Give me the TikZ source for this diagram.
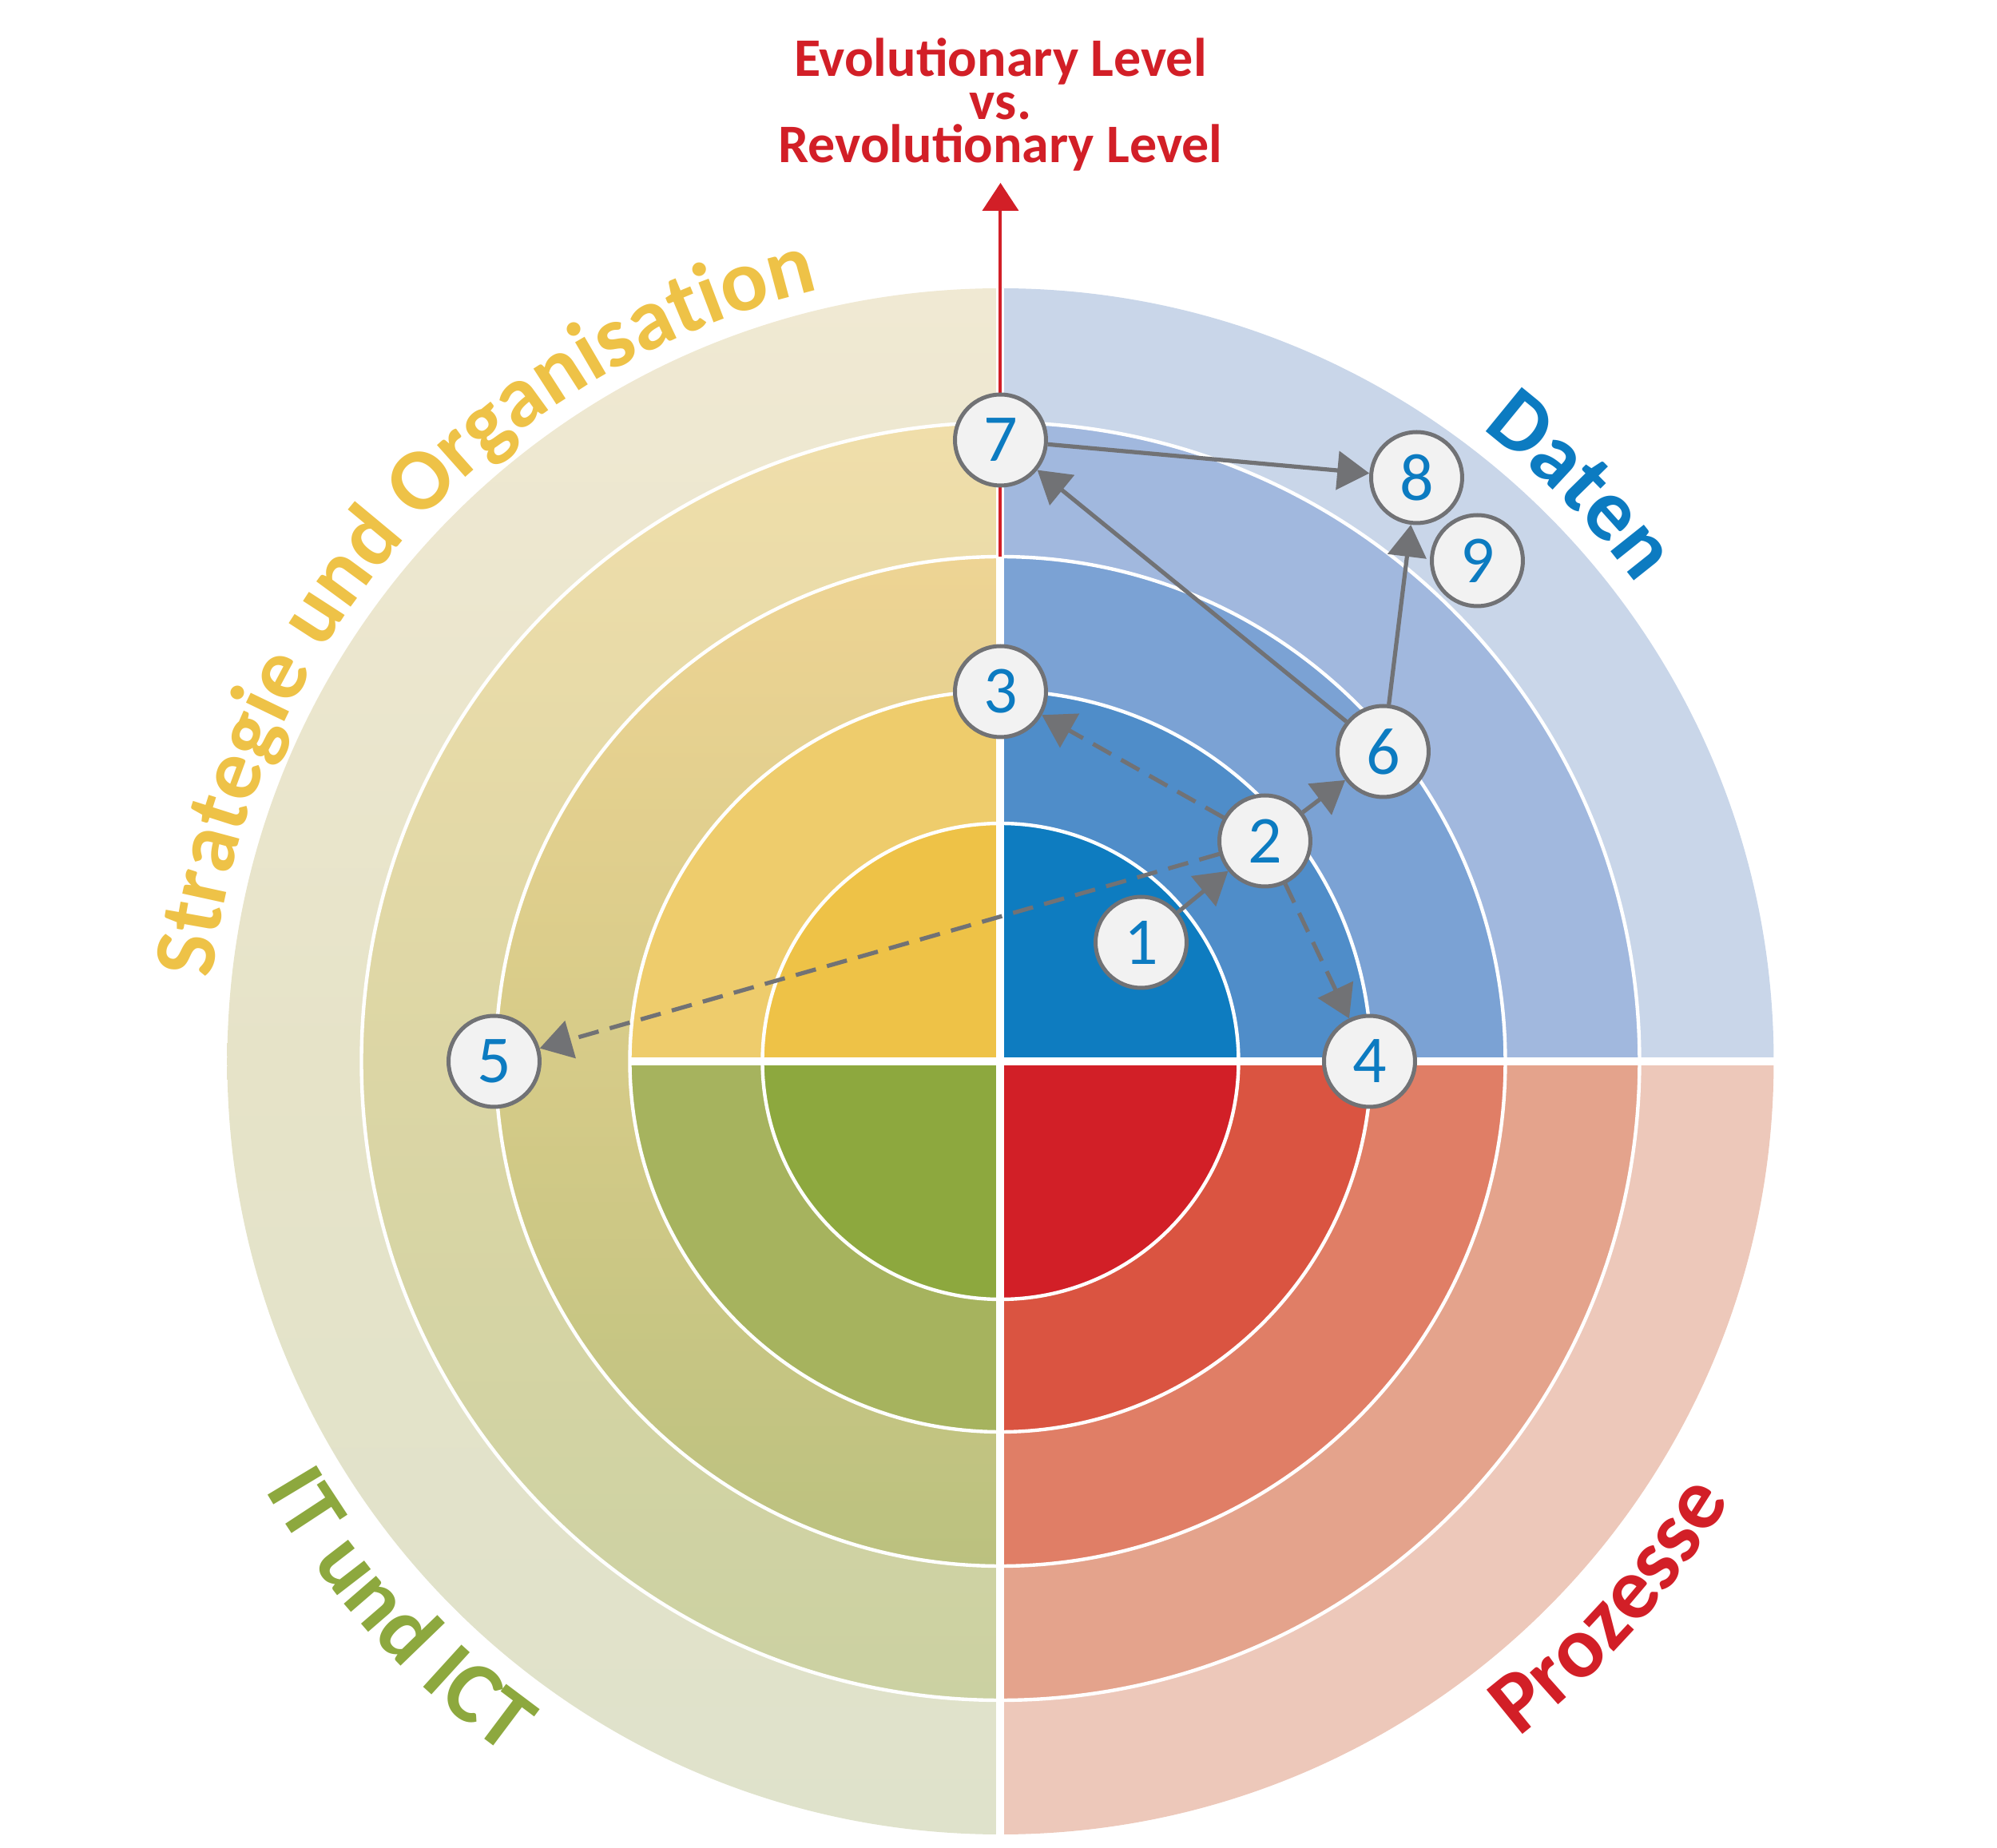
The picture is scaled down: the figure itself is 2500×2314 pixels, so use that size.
\documentclass[tikz,border=0pt]{standalone}
\usepackage{fontspec}
\setmainfont{Carlito}
\usetikzlibrary{arrows.meta,decorations.text}
\definecolor{b1}{HTML}{0E7CC0}
\definecolor{b2}{HTML}{4F8DC9}
\definecolor{b3}{HTML}{7BA2D4}
\definecolor{b4}{HTML}{A1B8DE}
\definecolor{b5}{HTML}{C9D6E9}
\definecolor{r1}{HTML}{D21F27}
\definecolor{r2}{HTML}{DA5441}
\definecolor{r3}{HTML}{E07E66}
\definecolor{r4}{HTML}{E4A38C}
\definecolor{r5}{HTML}{EDC8BA}
\definecolor{y1}{HTML}{EEC247}
\definecolor{y2}{HTML}{EECC6C}
\definecolor{g1}{HTML}{8DA83E}
\definecolor{g2}{HTML}{A6B35E}
\definecolor{lft}{HTML}{F0E9D3}
\definecolor{lfm}{HTML}{E6E3C8}
\definecolor{lfb}{HTML}{DFE2CB}
\definecolor{lvt}{HTML}{F0DEAA}
\definecolor{lvm}{HTML}{DCD6A5}
\definecolor{lvb}{HTML}{CBD1A2}
\definecolor{ltt}{HTML}{EED494}
\definecolor{ltm}{HTML}{D6CB88}
\definecolor{ltb}{HTML}{BBC17F}
\definecolor{grayc}{HTML}{717275}
\definecolor{nodefill}{HTML}{F2F2F2}
\definecolor{numblue}{HTML}{0C7BC1}
\definecolor{redc}{HTML}{D21F27}
\definecolor{ylab}{HTML}{EEC247}
\definecolor{blab}{HTML}{0C7BC1}
\definecolor{glab}{HTML}{8DA83E}
\newcommand\lblfont{\fontsize{27.5}{30}\selectfont\bfseries}
\begin{document}
\begin{tikzpicture}[x=0.25pt,y=0.25pt,
  numnode/.style={circle, fill=nodefill, draw=grayc, line width=1.25pt, minimum size=28.5pt, inner sep=0pt, text=numblue, font=\fontsize{21}{25}\selectfont},
  conn/.style={draw=grayc, line width=1.3pt, -{Triangle[length=10pt,width=12pt]}},
  dashconn/.style={conn, dash pattern=on 6.5pt off 3.6pt},
  ringline/.style={white, line width=1.1pt},
  sepline/.style={white, line width=2.5pt},
  redaxis/.style={draw=redc, line width=1pt, -{Triangle[length=8.75pt,width=11.25pt]}},
  titlenode/.style={align=center, text=redc, inner sep=0pt, font=\bfseries\fontsize{17}{13.6}\selectfont}
]
\useasboundingbox (-1252.5,-985) rectangle (1247.5,1329);
% upper right: Daten
\foreach \r/\c in {968/b5,800/b4,632/b3,464/b2,298/b1}
  {\fill[\c] (0,0) -- (0:\r) arc[start angle=0,end angle=90,radius=\r] -- cycle;}
% lower right: Prozesse
\foreach \r/\c in {968/r5,800/r4,632/r3,464/r2,298/r1}
  {\fill[\c] (0,0) -- (270:\r) arc[start angle=270,end angle=360,radius=\r] -- cycle;}
% left half, outer rings with vertical gradients
\shade[top color=lft,bottom color=lfb,middle color=lfm] (0,0) -- (90:968) arc[start angle=90,end angle=270,radius=968] -- cycle;
\shade[top color=lvt,bottom color=lvb,middle color=lvm] (0,0) -- (90:800) arc[start angle=90,end angle=270,radius=800] -- cycle;
\shade[top color=ltt,bottom color=ltb,middle color=ltm] (0,0) -- (90:632) arc[start angle=90,end angle=270,radius=632] -- cycle;
\fill[y2] (0,0) -- (90:464) arc[start angle=90,end angle=180,radius=464] -- cycle;
\fill[g2] (0,0) -- (180:464) arc[start angle=180,end angle=270,radius=464] -- cycle;
\fill[y1] (0,0) -- (90:298) arc[start angle=90,end angle=180,radius=298] -- cycle;
\fill[g1] (0,0) -- (180:298) arc[start angle=180,end angle=270,radius=298] -- cycle;
% white ring lines and separators
\foreach \r in {298,464,632,800} {\draw[ringline] (0,0) circle[radius=\r];}
\draw[sepline] (0,-980) -- (0,968);
\draw[sepline] (-464,0) -- (975,0);
% red axis
\coordinate (axisbase) at (0,632);
\coordinate (axistip) at (0,1100);
\draw[redaxis] (axisbase) -- (axistip);
\node[titlenode] (title) at (0,1198) {Evolutionary Level\\vs.\\Revolutionary Level};
% curved labels
\path[decorate,decoration={text along path,text align=center,text color=ylab,text={|\lblfont|Strategie und Organisation}}]
  (188.6:992) arc[start angle=188.6,end angle=88.6,radius=992];
\path[decorate,decoration={text along path,text align=center,text color=blab,text={|\lblfont|Daten}}]
  (74.8:995) arc[start angle=74.8,end angle=14.8,radius=995];
\path[decorate,decoration={text along path,text align=center,text color=redc,text={|\lblfont|Prozesse}}]
  (-71.8:1066) arc[start angle=-71.8,end angle=-11.8,radius=1066];
\path[decorate,decoration={text along path,text align=center,text color=glab,text={|\lblfont|IT und ICT}}]
  (-167.6:1066) arc[start angle=-167.6,end angle=-107.6,radius=1066];
% numbered nodes
\node[numnode] (n1) at (176,149) {1};
\node[numnode] (n2) at (331,276) {2};
\node[numnode] (n3) at (0,463) {3};
\node[numnode] (n4) at (462,0) {4};
\node[numnode] (n5) at (-634,0) {5};
\node[numnode] (n6) at (479,388) {6};
\node[numnode] (n7) at (0,778) {7};
\node[numnode] (n8) at (521,731) {8};
\node[numnode] (n9) at (597,627) {9};
% connectors
\draw[conn] (n1) -- (n2);
\draw[conn] (n2) -- (n6);
\draw[conn] (n6) -- (n7);
\draw[conn] (n6) -- (n8);
\draw[conn] (n7) -- (n8);
\draw[dashconn] (n2) -- (n3);
\draw[dashconn] (n2) -- (n4);
\draw[dashconn] (n2) -- (n5);
\end{tikzpicture}
\end{document}
